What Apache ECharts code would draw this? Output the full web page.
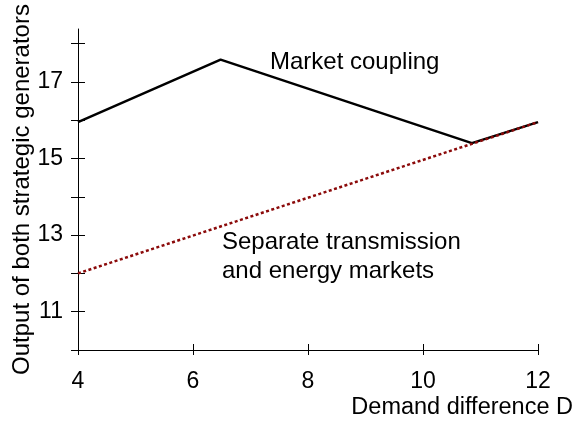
<!DOCTYPE html>
<html>
<head>
<meta charset="utf-8">
<script src="https://cdn.jsdelivr.net/npm/echarts@6/dist/echarts.min.js"></script>
<style>
  html, body { margin: 0; padding: 0; background: #fff; }
  #chart-container { width: 575px; height: 426px; }
</style>
</head>
<body>
<div id="chart-container"></div>
<script>
var dom = document.getElementById("chart-container");
var myChart = echarts.init(dom, null, { renderer: "canvas" });

// data
var couplingX = [4, 6.48, 10.85, 12];
var couplingY = [15.95, 17.58, 15.4, 15.95];
var separateX = [4, 12];
var separateY = [12, 15.95];
var yTicks = [10, 11, 12, 13, 14, 15, 16, 17, 18];
var yLabels = [11, 13, 15, 17];

function pairs(xs, ys) {
  return xs.map(function (x, i) { return [x, ys[i]]; });
}

var font = "Liberation Sans, Arial, sans-serif";

var yBase = {
  type: "value",
  min: 10,
  max: 18.38,
  position: "left",
  splitLine: { show: false },
  axisLine: { show: true, lineStyle: { color: "#000", width: 1 } },
};

option = {
  animation: false,
  grid: { left: 78, right: 37, top: 29, bottom: 76, outerBoundsMode: "none" },
  xAxis: [
    {
      type: "value",
      min: 4,
      max: 12,
      interval: 2,
      splitLine: { show: false },
      axisLine: { lineStyle: { color: "#000", width: 1 } },
      axisTick: { inside: false, length: 5, lineStyle: { color: "#000" } },
      axisLabel: { color: "#000", fontSize: 23, fontFamily: font, margin: 20 },
      name: "Demand difference D",
      nameLocation: "end",
      nameGap: 0,
      nameMoveOverlap: false,
      nameTextStyle: {
        color: "#000", fontSize: 23.5, fontFamily: font,
        align: "right", verticalAlign: "top", padding: [46, -35, 0, 0],
      },
    },
    {
      type: "value",
      min: 4,
      max: 12,
      interval: 2,
      position: "bottom",
      splitLine: { show: false },
      axisLine: { show: false },
      axisTick: { inside: true, length: 6, lineStyle: { color: "#000" } },
      axisLabel: { show: false },
    },
  ],
  yAxis: [
    Object.assign({}, yBase, {
      axisTick: { inside: false, length: 7, customValues: yTicks, lineStyle: { color: "#000" } },
      axisLabel: { color: "#000", fontSize: 23, fontFamily: font, margin: 15, customValues: yLabels },
      name: "Output of both strategic generators",
      nameLocation: "middle",
      nameGap: 44,
      nameRotate: 90,
      nameMoveOverlap: false,
      nameTextStyle: { color: "#000", fontSize: 24, fontFamily: font },
    }),
    Object.assign({}, yBase, {
      axisLine: { show: false },
      axisTick: { inside: true, length: 7, customValues: yTicks, lineStyle: { color: "#000" } },
      axisLabel: { show: false },
    }),
  ],
  graphic: [
    { type: "text", left: 270, top: 50, style: { text: "Market coupling", fill: "#000", fontSize: 24, fontFamily: font } },
    { type: "text", left: 222, top: 228, style: { text: "Separate transmission\nand energy markets", fill: "#000", fontSize: 24, fontFamily: font, lineHeight: 29 } },
  ],
  series: [
    {
      name: "Separate transmission and energy markets",
      type: "line",
      data: pairs(separateX, separateY),
      showSymbol: false,
      lineStyle: { color: "#8b0a0a", width: 2.5, type: [3, 2.5] },
      z: 2,
    },
    {
      name: "Market coupling",
      type: "line",
      data: pairs(couplingX, couplingY),
      showSymbol: false,
      lineStyle: { color: "#000", width: 2.5 },
      z: 1,
    },
  ],
};

myChart.setOption(option);
</script>
</body>
</html>
